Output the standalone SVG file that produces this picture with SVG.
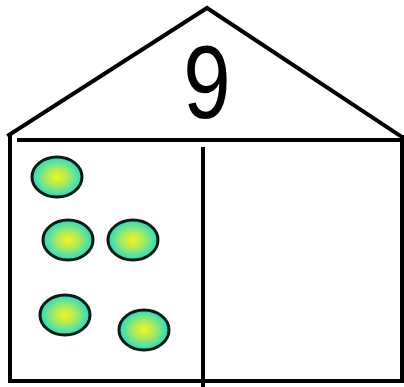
<svg xmlns="http://www.w3.org/2000/svg" width="404" height="387" viewBox="0 0 404 387">
<defs>
<radialGradient id="g" cx="0.5" cy="0.5" r="0.5">
<stop offset="0" stop-color="#f4f51a"/>
<stop offset="0.45" stop-color="#a6ea60"/>
<stop offset="1" stop-color="#22dcc8"/>
</radialGradient>
<style>
.ln{fill:none;stroke:#000;stroke-width:4;stroke-linecap:square}
.dot{fill:url(#g);stroke:#0a1a10;stroke-width:3}
.num{font-family:"Liberation Sans",Arial,sans-serif;font-size:104px;fill:#000}
</style>
</defs>
<rect width="404" height="387" fill="#fff"/>
<g id="roof">
<polyline class="ln" points="9,135 207,8 402,137"/>
<text class="num" x="0" y="118" text-anchor="middle" transform="translate(207 0) scale(0.82 1)">9</text>
</g>
<g id="house">
<line class="ln" x1="19" y1="140" x2="402" y2="140"/>
<polyline class="ln" points="10,136 10,381 402,381 402,137"/>
<line class="ln" x1="203" y1="149" x2="203" y2="385"/>
</g>
<g id="dots">
<ellipse class="dot" cx="57" cy="177" rx="25" ry="20"/>
<ellipse class="dot" cx="68" cy="240" rx="25" ry="20"/>
<ellipse class="dot" cx="133" cy="240" rx="25" ry="20"/>
<ellipse class="dot" cx="65" cy="315" rx="25" ry="20"/>
<ellipse class="dot" cx="144" cy="330" rx="25" ry="20"/>
</g>
</svg>
